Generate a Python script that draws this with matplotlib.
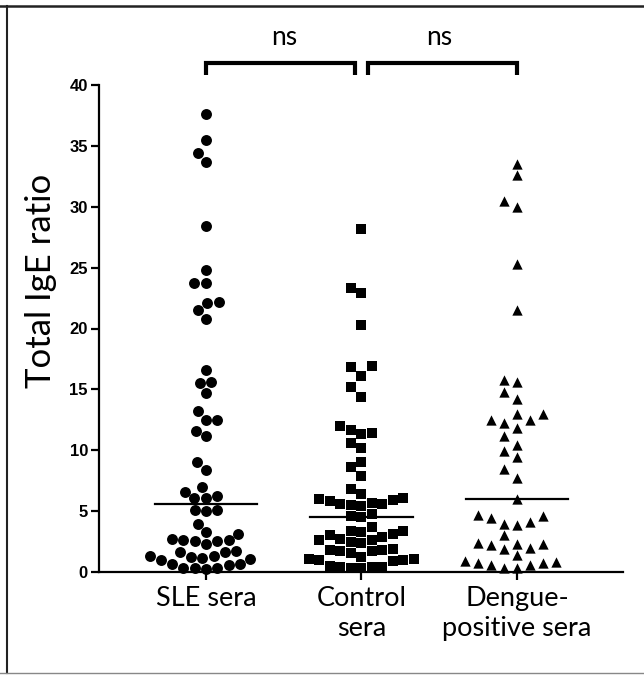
import numpy as np
import matplotlib
matplotlib.use('Agg')
import matplotlib.pyplot as plt
from matplotlib.lines import Line2D

# Values (Total IgE ratio per serum)
sle_sera = [37.6, 35.5, 34.4, 33.7, 28.4, 24.8, 23.7, 23.7, 22.2, 22.1, 21.5, 20.8,
            16.6, 15.6, 15.5, 14.7, 13.2, 12.5, 12.5, 11.6, 11.2, 9.0, 8.4,
            7.0, 6.6, 6.25, 6.1, 6.1, 5.1, 5.07, 4.98, 3.97, 3.28, 3.15,
            2.74, 2.6, 2.6, 2.55, 2.55, 2.33, 1.72, 1.64, 1.64, 1.3, 1.3, 1.25,
            1.18, 1.1, 1.0, 0.69, 0.69, 0.55, 0.36, 0.36, 0.36, 0.28]
control_sera = [28.2, 23.3, 22.9, 20.3, 16.9, 16.8, 16.1, 15.2, 14.4, 12.0, 11.7,
                11.4, 11.3, 10.6, 10.2, 9.0, 8.6, 7.9, 6.8,
                6.4, 6.05, 6.0, 5.95, 5.8, 5.7, 5.6, 5.55, 5.5, 5.4,
                4.75, 4.6, 4.5,
                3.7, 3.4, 3.4, 3.3, 3.15, 3.0, 2.9, 2.75, 2.6, 2.6, 2.5, 2.4,
                1.9, 1.8, 1.8, 1.75, 1.7, 1.6, 1.2, 1.1, 1.1, 1.0, 1.0, 0.9,
                0.5, 0.45, 0.4, 0.4, 0.35, 0.3]
dengue_sera = [33.5, 32.6, 30.5, 30.0, 25.3, 21.5, 15.8, 15.6, 14.8, 14.25, 13.0,
               12.97, 12.5, 12.5, 12.2, 11.8, 11.2, 10.4, 9.9, 9.45, 8.5, 7.75,
               6.0, 4.65, 4.6, 4.45, 4.1, 3.97, 3.9, 3.07, 2.4, 2.3, 2.3, 2.2,
               2.0, 1.9, 1.43, 0.9, 0.8, 0.75, 0.75, 0.6, 0.55, 0.35, 0.35]

group_labels = ['SLE sera', 'Control\nsera', 'Dengue-\npositive sera']
comparisons = [(0, 1, 'ns'), (1, 2, 'ns')]
y_ticks = [0, 5, 10, 15, 20, 25, 30, 35, 40]

LABEL_FONT = ['Lato', 'DejaVu Sans']
TICK_FONT = ['Liberation Sans', 'DejaVu Sans']


def swarm_offsets(vals, ppx, ppy, dx, dy, round_marks):
    """Greedy beeswarm: returns x offsets (data units) so marks do not overlap."""
    ys = np.asarray(vals) * ppy
    xs = np.zeros(len(ys))
    placed = []
    for i in np.argsort(ys):
        y = ys[i]
        near = [(px, py) for px, py in placed if abs(py - y) < dy]
        cands = [0.0]
        for px, py in near:
            if round_marks:
                w = np.sqrt(max(dx ** 2 - (py - y) ** 2, 0))
            else:
                w = dx
            cands += [px - w, px + w]
        cands.sort(key=lambda c: (round(abs(c), 3), c))
        for c in cands:
            ok = True
            for px, py in near:
                if round_marks:
                    if (c - px) ** 2 + (y - py) ** 2 < dx ** 2 - 1e-6:
                        ok = False
                        break
                elif abs(c - px) < dx - 1e-6 and abs(y - py) < dy - 1e-6:
                    ok = False
                    break
            if ok:
                break
        placed.append((c, y))
        xs[i] = c
    return xs / ppx


fig = plt.figure(figsize=(6.44, 6.75), dpi=100)
ax = fig.add_axes([99 / 644, 1 - 572 / 675, 524 / 644, 487 / 675])
ax.set_xlim(-0.688, 2.682)
ax.set_ylim(0, 40)

bbox = ax.get_window_extent()
ppx = bbox.width / (ax.get_xlim()[1] - ax.get_xlim()[0])
ppy = bbox.height / 40

groups = [
    (sle_sera, 'o', 62, 11.5, 11.5, True),
    (control_sera, 's', 50, 10.5, 10.5, False),
    (dengue_sera, '^', 55, 13.0, 10.0, False),
]
for i, (vals, marker, size, dx, dy, rnd) in enumerate(groups):
    offs = swarm_offsets(vals, ppx, ppy, dx, dy, rnd)
    ax.scatter(i + offs, vals, marker=marker, s=size, color='black',
               linewidths=0, zorder=3, clip_on=False)
    med = np.median(vals)
    ax.plot([i - 0.33, i + 0.33], [med, med], color='black', lw=1.6, zorder=4)

# significance brackets
for a, b, txt in comparisons:
    x0 = a + (0.04 if a > 0 else 0)
    x1 = b - (0.04 if b < 2 else 0)
    ax.plot([x0, x0, x1, x1], [40.85, 41.8, 41.8, 40.85], color='black', lw=3,
            clip_on=False, solid_capstyle='butt', solid_joinstyle='miter')
    ax.text((a + b) / 2, 43.3, txt, ha='center', va='baseline', fontsize=19,
            family=LABEL_FONT)

ax.spines['top'].set_visible(False)
ax.spines['right'].set_visible(False)
ax.spines['left'].set_linewidth(1.6)
ax.spines['bottom'].set_linewidth(1.6)

ax.set_yticks(y_ticks)
ax.set_yticklabels([str(t) for t in y_ticks], fontsize=12, fontweight='bold',
                   family=TICK_FONT)
ax.set_xticks(range(len(group_labels)))
ax.set_xticklabels(group_labels, fontsize=19.5, family=LABEL_FONT, linespacing=1.25)
ax.tick_params(axis='y', length=6, width=1.6, pad=2)
ax.tick_params(axis='x', length=6, width=1.6, pad=4)

fig.text(41 / 644, 1 - 281 / 675, 'Total IgE ratio', rotation=90, ha='center',
         va='center', fontsize=25, family=LABEL_FONT)

# frame around the panel
fig.add_artist(Line2D([0, 1], [1 - 6 / 675] * 2, color='#222222', lw=1.8))
fig.add_artist(Line2D([7 / 644] * 2, [1 - 6 / 675, 1 - 673 / 675], color='#222222', lw=1.5))
fig.add_artist(Line2D([0, 1], [1 - 673 / 675] * 2, color='#888888', lw=1.0))

fig.savefig('out.png', dpi=100, facecolor='white')
